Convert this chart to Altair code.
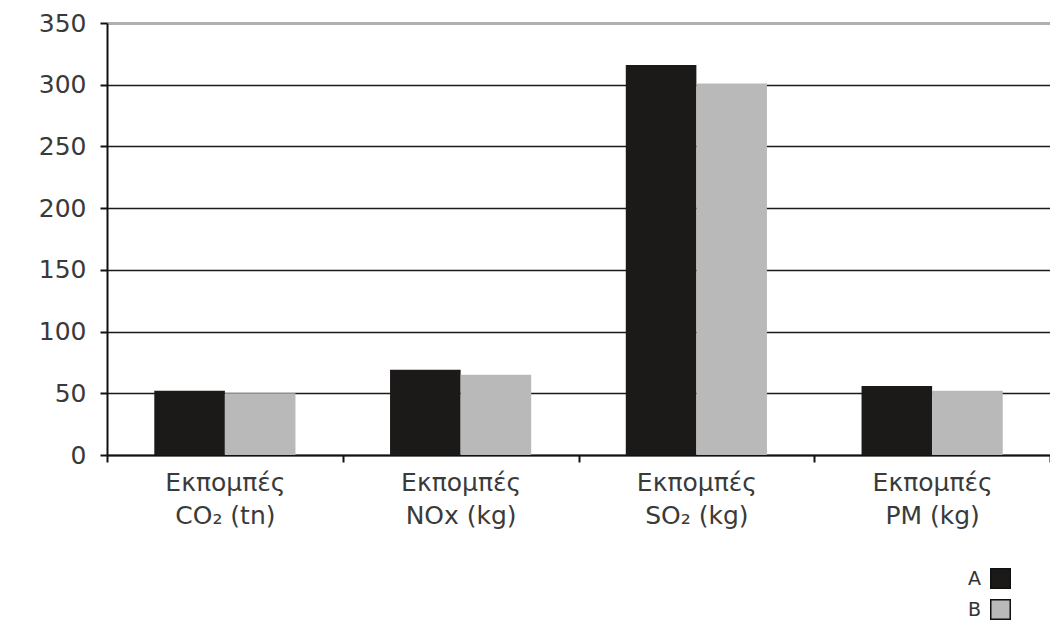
import altair as alt
import pandas as pd

# Emissions per category for the two alternatives
categories = ["Εκπομπές\nCO₂ (tn)", "Εκπομπές\nNOx (kg)", "Εκπομπές\nSO₂ (kg)", "Εκπομπές\nPM (kg)"]
series_names = ["A", "B"]
values_a = [52, 69, 316, 56]
values_b = [50, 65, 301, 52]
y_ticks = [0, 50, 100, 150, 200, 250, 300, 350]
bar_colors = ["#1c1919", "#b9b9b9"]

rows = []
for cat, a, b in zip(categories, values_a, values_b):
    rows.append({"cat": cat, "series": "A", "value": a})
    rows.append({"cat": cat, "series": "B", "value": b})
df = pd.DataFrame(rows)

FONT = "DejaVu Sans"

bars = alt.Chart(df).mark_bar().encode(
    x=alt.X(
        "cat:N",
        sort=categories,
        title=None,
        scale=alt.Scale(paddingInner=0, paddingOuter=0),
        axis=alt.Axis(
            labelAngle=0,
            labelExpr="split(datum.label, '\\n')",
            labelFont=FONT,
            labelFontSize=25,
            labelColor="#3a3a3a",
            labelLineHeight=33,
            labelPadding=8,
            tickBand="extent",
            tickColor="#111111",
            tickWidth=2,
            tickSize=7,
            domainColor="#111111",
            domainWidth=2,
            grid=False,
        ),
    ),
    xOffset=alt.XOffset(
        "series:N",
        sort=series_names,
        scale=alt.Scale(paddingInner=0, paddingOuter=0.67),
    ),
    y=alt.Y(
        "value:Q",
        title=None,
        scale=alt.Scale(domain=[0, 350], nice=False),
        axis=alt.Axis(
            values=y_ticks,
            labelFont=FONT,
            labelFontSize=25,
            labelColor="#3a3a3a",
            labelPadding=14,
            tickColor="#111111",
            tickWidth=2,
            tickSize=7,
            domainColor="#111111",
            domainWidth=2,
            grid=True,
            gridColor={"condition": {"test": "datum.value === 350", "value": "#b0b0b0"}, "value": "#1a1a1a"},
            gridWidth={"condition": {"test": "datum.value === 350", "value": 3}, "value": 1.6},
            gridOpacity=1,
        ),
    ),
    color=alt.Color(
        "series:N",
        sort=series_names,
        scale=alt.Scale(domain=series_names, range=bar_colors),
        legend=alt.Legend(
            title=None,
            orient="none",
            legendX=883,
            legendY=545,
            symbolType="square",
            symbolSize=380,
            symbolStrokeColor="#111111",
            symbolStrokeWidth=1.5,
            symbolOpacity=1,
            labelFont=FONT,
            labelFontSize=19,
            labelColor="#333333",
            labelAlign="right",
            labelOffset={"expr": "-30"},
            rowPadding=4,
        ),
    ),
).properties(width=943, height=432)

chart = bars.properties(
    padding={"left": 107, "top": 23, "right": 0, "bottom": 168},
    autosize=alt.AutoSizeParams(type="none"),
    background="white",
).configure_view(stroke=None)

chart.save("out.html", embed_options={"renderer": "svg", "actions": False})
